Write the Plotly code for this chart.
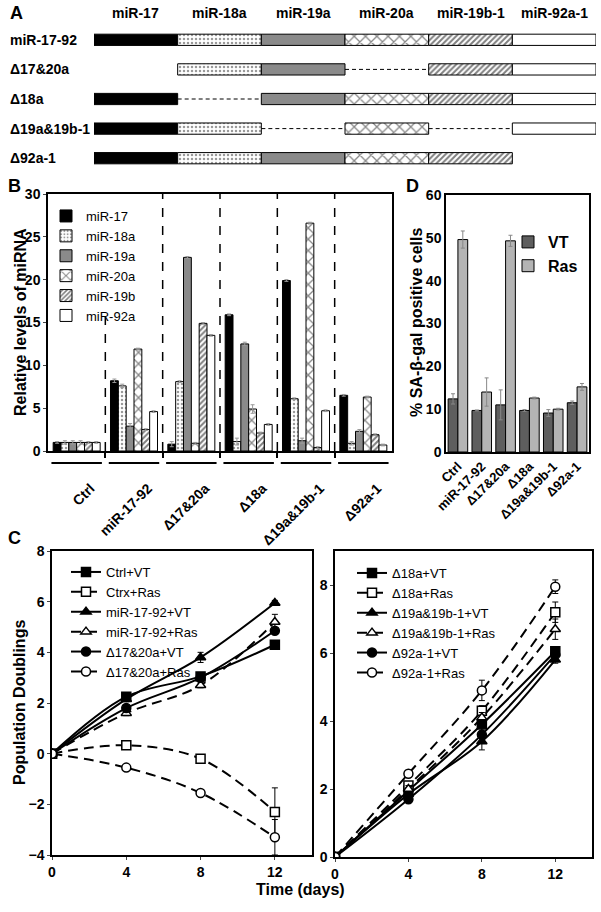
import plotly.graph_objects as go

W, H = 601, 912


def px(x):
    return x / W


def py(y):
    return 1 - y / H


FONT = "Arial, Liberation Sans, sans-serif"

# ---- panel A: constructs
segments = ["miR-17", "miR-18a", "miR-19a", "miR-20a", "miR-19b-1", "miR-92a-1"]
constructs = ["miR-17-92", "Δ17&20a", "Δ18a", "Δ19a&19b-1", "Δ92a-1"]
presence = [
    [1, 1, 1, 1, 1, 1],
    [0, 1, 1, 0, 1, 1],
    [1, 0, 1, 1, 1, 1],
    [1, 1, 0, 1, 0, 1],
    [1, 1, 1, 1, 1, 0],
]

# ---- panel B: relative miRNA levels
groups_b = ["Ctrl", "miR-17-92", "Δ17&20a", "Δ18a", "Δ19a&19b-1", "Δ92a-1"]
mirna_b = ["miR-17", "miR-18a", "miR-19a", "miR-20a", "miR-19b", "miR-92a"]
lv_17 = [1.0, 8.2, 0.8, 15.9, 19.9, 6.5]
lv_18a = [1.0, 7.6, 8.1, 1.1, 6.1, 0.9]
lv_19a = [1.0, 2.9, 22.6, 12.5, 1.2, 2.3]
lv_20a = [1.0, 11.9, 0.9, 4.9, 26.6, 6.3]
lv_19b = [1.0, 2.5, 14.9, 2.1, 0.4, 1.9]
lv_92a = [1.0, 4.6, 13.5, 3.1, 4.7, 0.7]
er_17 = [0.1, 0.2, 0.3, 0.1, 0.1, 0.1]
er_18a = [0.2, 0.2, 0.1, 0.4, 0.1, 0.2]
er_19a = [0.2, 0.3, 0.1, 0.2, 0.3, 0.2]
er_20a = [0.2, 0.1, 0.1, 0.5, 0.1, 0.1]
er_19b = [0.1, 0.1, 0.1, 0.1, 0.1, 0.1]
er_92a = [0.1, 0.1, 0.1, 0.1, 0.1, 0.1]
levels_b = [lv_17, lv_18a, lv_19a, lv_20a, lv_19b, lv_92a]
errors_b = [er_17, er_18a, er_19a, er_20a, er_19b, er_92a]

# ---- panel D: SA-beta-gal
vt_pct = [12.4, 9.7, 11.0, 9.7, 9.1, 11.5]
vt_err = [1.2, 0.1, 3.5, 0.2, 0.8, 0.4]
ras_pct = [49.6, 14.0, 49.3, 12.6, 10.0, 15.2]
ras_err = [2.0, 3.3, 1.3, 0.2, 0.2, 0.8]

# ---- panel C: growth curves
days = [0, 4, 8, 12]
ctrl_vt = [0, 2.25, 3.05, 4.3]
ctrl_ras = [0, 0.33, -0.2, -2.3]
ctrl_ras_err = [0, 0.1, 0.1, 0.95]
m1792_vt = [0, 2.15, 3.8, 5.95]
m1792_vt_err = [0, 0.1, 0.2, 0.1]
m1792_ras = [0, 1.6, 2.7, 5.2]
m1792_ras_err = [0, 0.1, 0.1, 0.3]
d1720_vt = [0, 1.8, 3.0, 4.85]
d1720_ras = [0, -0.55, -1.55, -3.3]
d1720_ras_err = [0, 0.05, 0.1, 0.7]

d18_vt = [0, 1.95, 3.9, 6.05]
d18_vt_err = [0, 0.1, 0.2, 0.1]
d18_ras = [0, 2.1, 4.3, 7.2]
d18_ras_err = [0, 0.1, 0.15, 0.3]
d19_vt = [0, 1.85, 3.4, 5.8]
d19_vt_err = [0, 0.1, 0.25, 0.1]
d19_ras = [0, 2.0, 4.1, 6.7]
d19_ras_err = [0, 0.1, 0.15, 0.3]
d92_vt = [0, 1.7, 3.6, 5.95]
d92_ras = [0, 2.45, 4.9, 7.95]
d92_ras_err = [0, 0.1, 0.3, 0.2]

# fill styles for the six miRNAs
styles = [
    dict(color="black"),
    dict(color="white", pattern=dict(shape=".", fgcolor="#333", size=4, solidity=0.3)),
    dict(color="#8a8a8a"),
    dict(color="white", pattern=dict(shape="x", fgcolor="#111", size=8, solidity=0.3)),
    dict(color="white", pattern=dict(shape="/", fgcolor="#000", size=4, solidity=0.5)),
    dict(color="white"),
]

fig = go.Figure()

# ---------- A
for j, seg in enumerate(segments):
    rows = [i for i in range(len(constructs)) if presence[i][j]]
    fig.add_trace(go.Bar(
        y=rows, x=[1] * len(rows), base=[j] * len(rows), orientation="h",
        width=0.38, offset=-0.19,
        marker=dict(line=dict(color="black", width=1), **styles[j]),
        xaxis="x", yaxis="y", showlegend=False, hoverinfo="skip"))

for i, row in enumerate(presence):
    present = [j for j, p in enumerate(row) if p]
    for a, b in zip(present[:-1], present[1:]):
        if b - a > 1:
            fig.add_trace(go.Scatter(
                x=[a + 1, b], y=[i, i], mode="lines",
                line=dict(color="black", width=1, dash="4px,3px"),
                xaxis="x", yaxis="y", showlegend=False, hoverinfo="skip"))

# ---------- B
xb = list(range(len(groups_b)))
for k, name in enumerate(mirna_b):
    fig.add_trace(go.Bar(
        x=xb, y=levels_b[k], name=name,
        marker=dict(line=dict(color="black", width=1), **styles[k]),
        error_y=dict(type="data", array=errors_b[k], color="#999", thickness=1, width=2),
        xaxis="x2", yaxis="y2", legend="legend"))

# ---------- D
xd = list(range(len(groups_b)))
fig.add_trace(go.Bar(
    x=xd, y=vt_pct, name="VT", marker=dict(color="#5e5e5e", line=dict(color="black", width=1)),
    error_y=dict(type="data", array=vt_err, color="#888", thickness=1, width=2),
    xaxis="x3", yaxis="y3", legend="legend2"))
fig.add_trace(go.Bar(
    x=xd, y=ras_pct, name="Ras", marker=dict(color="#b4b4b4", line=dict(color="black", width=1)),
    error_y=dict(type="data", array=ras_err, color="#888", thickness=1, width=2),
    xaxis="x3", yaxis="y3", legend="legend2"))

# ---------- C


def curve(name, y, err, symbol, filled, dashed, xa, ya, lg):
    fig.add_trace(go.Scatter(
        x=days, y=y, name=name, mode="lines+markers",
        line=dict(color="black", width=2, dash="10px,6px" if dashed else "solid", shape="spline"),
        marker=dict(symbol=symbol, size=9, color="black" if filled else "white",
                    line=dict(color="black", width=1.5)),
        error_y=dict(type="data", array=err, color="black", thickness=1, width=3, visible=err is not None),
        xaxis=xa, yaxis=ya, legend=lg))


curve("Ctrl+VT", ctrl_vt, None, "square", True, False, "x4", "y4", "legend3")
curve("Ctrx+Ras", ctrl_ras, ctrl_ras_err, "square", False, True, "x4", "y4", "legend3")
curve("miR-17-92+VT", m1792_vt, m1792_vt_err, "triangle-up", True, False, "x4", "y4", "legend3")
curve("miR-17-92+Ras", m1792_ras, m1792_ras_err, "triangle-up", False, True, "x4", "y4", "legend3")
curve("Δ17&20a+VT", d1720_vt, None, "circle", True, False, "x4", "y4", "legend3")
curve("Δ17&20a+Ras", d1720_ras, d1720_ras_err, "circle", False, True, "x4", "y4", "legend3")

curve("Δ18a+VT", d18_vt, d18_vt_err, "square", True, False, "x5", "y5", "legend4")
curve("Δ18a+Ras", d18_ras, d18_ras_err, "square", False, True, "x5", "y5", "legend4")
curve("Δ19a&19b-1+VT", d19_vt, d19_vt_err, "triangle-up", True, False, "x5", "y5", "legend4")
curve("Δ19a&19b-1+Ras", d19_ras, d19_ras_err, "triangle-up", False, True, "x5", "y5", "legend4")
curve("Δ92a-1+VT", d92_vt, None, "circle", True, False, "x5", "y5", "legend4")
curve("Δ92a-1+Ras", d92_ras, d92_ras_err, "circle", False, True, "x5", "y5", "legend4")

bold14 = dict(family=FONT, size=14, color="black", weight="bold")
bold13 = dict(family=FONT, size=13, color="black", weight="bold")
box = dict(showline=True, linecolor="black", linewidth=1.5, mirror=True, showgrid=False,
           zeroline=False, automargin=False)

fig.update_layout(
    width=W, height=H, margin=dict(l=0, r=0, t=0, b=0),
    paper_bgcolor="white", plot_bgcolor="white",
    font=dict(family=FONT, color="black"),
    barmode="group", bargap=0.18, bargroupgap=0,
    # A
    xaxis=dict(domain=[px(94), px(596)], range=[0, 6], visible=False, anchor="y", automargin=False),
    yaxis=dict(domain=[py(173), py(25)], range=[4.5, -0.5], visible=False, anchor="x", automargin=False),
    # B
    xaxis2=dict(domain=[px(48), px(392)], range=[-0.5, 5.5], anchor="y2",
                tickvals=xb, ticktext=groups_b, tickangle=-45, tickfont=bold14,
                ticks="", ticklabelstandoff=22, ticklabelshift=14,
                minor=dict(tickvals=[0.5, 1.5, 2.5, 3.5, 4.5], ticks="outside", ticklen=5,
                           tickcolor="black", tickwidth=1.5), **box),
    yaxis2=dict(domain=[py(451), py(194)], range=[0, 30], dtick=5, anchor="x2",
                tickfont=bold14, ticks="outside", ticklen=3, **box),
    # D
    xaxis3=dict(domain=[px(446), px(589)], range=[-0.5, 5.5], anchor="y3",
                tickvals=xd, ticktext=groups_b, tickangle=-45, tickfont=bold13, ticks="", **box),
    yaxis3=dict(domain=[py(452), py(195)], range=[0, 60], dtick=10, anchor="x3",
                tickfont=bold14, ticks="", **box),
    # C left
    xaxis4=dict(domain=[px(52), px(312)], range=[0, 14], tickvals=[0, 4, 8, 12], anchor="y4",
                tickfont=bold14, ticks="outside", ticklen=3, **box),
    yaxis4=dict(domain=[py(855), py(551)], range=[-4, 8], dtick=2, anchor="x4",
                tickfont=bold14, ticks="outside", ticklen=3, **box),
    # C right
    xaxis5=dict(domain=[px(335), px(592)], range=[0, 14], tickvals=[0, 4, 8, 12], anchor="y5",
                tickfont=bold14, ticks="outside", ticklen=3, **box),
    yaxis5=dict(domain=[py(857), py(551)], range=[0, 9], tickvals=[0, 2, 4, 6, 8], anchor="x5",
                tickfont=bold14, ticks="outside", ticklen=3, **box),
    legend=dict(x=px(46), y=py(201), xanchor="left", yanchor="top", bgcolor="rgba(0,0,0,0)",
                font=dict(family=FONT, size=13), tracegroupgap=0, itemwidth=30),
    legend2=dict(x=px(508), y=py(225), xanchor="left", yanchor="top", bgcolor="rgba(0,0,0,0)",
                 font=dict(family=FONT, size=16, weight="bold"), itemwidth=30),
    legend3=dict(x=px(66), y=py(557), xanchor="left", yanchor="top", bgcolor="rgba(0,0,0,0)",
                 font=dict(family=FONT, size=13), itemwidth=30, tracegroupgap=0),
    legend4=dict(x=px(352), y=py(558), xanchor="left", yanchor="top", bgcolor="rgba(0,0,0,0)",
                 font=dict(family=FONT, size=13), itemwidth=30, tracegroupgap=0),
)

# group separators and underline brackets for B
for b in [0.5, 1.5, 2.5, 3.5, 4.5]:
    fig.add_shape(type="line", xref="x2", yref="y2", x0=b, x1=b,
                  y0=0, y1=16 if b == 0.5 else 30,
                  line=dict(color="black", width=1.5, dash="dash"))
for g in xb:
    fig.add_shape(type="line", xref="x2", yref="paper", x0=g - 0.44, x1=g + 0.44,
                  y0=py(463), y1=py(463), line=dict(color="black", width=2))

ann = []
for lab, x, y in [("A", 8, 13), ("B", 6, 186), ("C", 6, 538), ("D", 404, 186)]:
    ann.append(dict(text=lab, x=px(x), y=py(y), xref="paper", yref="paper", showarrow=False,
                    xanchor="left", yanchor="middle", font=dict(family=FONT, size=18, weight="bold")))
for j, seg in enumerate(segments):
    ann.append(dict(text=seg, x=j + 0.5, y=py(13), xref="x", yref="paper", showarrow=False,
                    xanchor="center", yanchor="middle", font=bold14))
for i, c in enumerate(constructs):
    ann.append(dict(text=c, x=px(8), y=i, xref="paper", yref="y", showarrow=False,
                    xanchor="left", yanchor="middle", font=bold14))
ann.append(dict(text="Relative levels of miRNA", x=px(20), y=py(322), xref="paper", yref="paper",
                xanchor="center", yanchor="middle",
                textangle=-90, showarrow=False, font=dict(family=FONT, size=16, weight="bold")))
ann.append(dict(text="% SA-β-gal positive cells", x=px(416), y=py(323), xref="paper", yref="paper",
                xanchor="center", yanchor="middle",
                textangle=-90, showarrow=False, font=dict(family=FONT, size=16, weight="bold")))
ann.append(dict(text="Population Doublings", x=px(19), y=py(703), xref="paper", yref="paper",
                xanchor="center", yanchor="middle",
                textangle=-90, showarrow=False, font=dict(family=FONT, size=16, weight="bold")))
ann.append(dict(text="Time (days)", x=px(300), y=py(889), xref="paper", yref="paper",
                xanchor="center", yanchor="middle",
                showarrow=False, font=dict(family=FONT, size=16, weight="bold")))
fig.update_layout(annotations=ann)

# drop the default page margin so the figure sits at the window's corner
fig.write_html("out.html", config={"displayModeBar": False},
               post_script="document.body.style.margin='0';")
